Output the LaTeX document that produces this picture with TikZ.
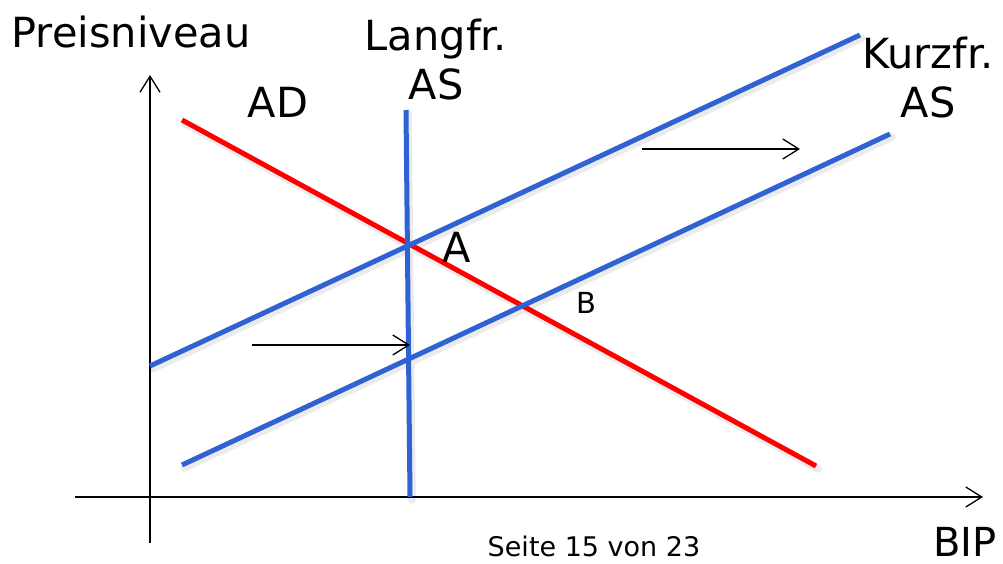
\documentclass[tikz,border=0pt]{standalone}
\usepackage{fontspec}
\setmainfont{DejaVu Sans}
\usetikzlibrary{arrows.meta}
\definecolor{asblue}{HTML}{2F62D2}
\definecolor{adred}{HTML}{FF0000}
\tikzset{
  axis/.style={black, line width=1.3pt, -{Straight Barb[length=16pt,width=20pt,line width=1.3pt]}},
  shiftarrow/.style={black, line width=1.3pt, -{Straight Barb[length=16pt,width=20pt,line width=1.3pt]}},
  curve/.style={line width=5pt},
  shadowline/.style={line width=7.5pt, black!8, line cap=round},
  lbl/.style={inner sep=0pt, font=\fontsize{41.5}{49}\selectfont},
}
\begin{document}
\begin{tikzpicture}[x=1pt,y=-1pt]
\useasboundingbox[fill=white] (0,0) rectangle (1003,564);
% coordinates
\coordinate (yb) at (150,543);
\coordinate (yt) at (150,75);
\coordinate (xl) at (75,497);
\coordinate (xr) at (983,497);
\coordinate (ad1) at (182,120);
\coordinate (ad2) at (816,466);
\coordinate (lr1) at (406,110);
\coordinate (lr2) at (410,497);
\coordinate (s1a) at (150,366);
\coordinate (s1b) at (860,35);
\coordinate (s2a) at (182,465);
\coordinate (s2b) at (890,134);
\coordinate (h1a) at (252,345);
\coordinate (h1b) at (410,345);
\coordinate (h2a) at (642,149);
\coordinate (h2b) at (800,149);
% shadows
\draw[shadowline] ([shift={(2,3)}]ad1) -- ([shift={(2,3)}]ad2);
\draw[shadowline] ([shift={(2,3)}]lr1) -- ([shift={(2,3)}]lr2);
\draw[shadowline] ([shift={(2,3)}]s1a) -- ([shift={(2,3)}]s1b);
\draw[shadowline] ([shift={(2,3)}]s2a) -- ([shift={(2,3)}]s2b);
% axes
\draw[axis] (yb) -- (yt);
\draw[axis] (xl) -- (xr);
% curves
\draw[curve, adred] (ad1) -- (ad2);
\draw[curve, asblue] (s1a) -- (s1b);
\draw[curve, asblue] (s2a) -- (s2b);
\draw[curve, asblue] (lr1) -- (lr2);
% shift arrows
\draw[shiftarrow] (h1a) -- (h1b);
\draw[shiftarrow] (h2a) -- (h2b);
% labels
\node[lbl, anchor=base] (preis) at (131,48) {Preisniveau};
\node[lbl, anchor=north, align=center] (lras) at (436,19) {Langfr.\\AS};
\node[lbl, anchor=north, align=center] (sras) at (928,37) {Kurzfr.\\AS};
\node[lbl, anchor=base] (ad) at (278,118) {AD};
\node[lbl, anchor=base] (pa) at (457,262) {A};
\node[inner sep=0pt, font=\fontsize{29}{34}\selectfont, anchor=base] (pb) at (586,313) {B};
\node[inner sep=0pt, text depth=0pt, font=\fontsize{40}{46}\selectfont, anchor=base] (bip) at (965,556) {BIP};
\node[inner sep=0pt, text depth=0pt, font=\fontsize{27}{32}\selectfont, anchor=base] (seite) at (594,556) {Seite 15 von 23};
\end{tikzpicture}
\end{document}
